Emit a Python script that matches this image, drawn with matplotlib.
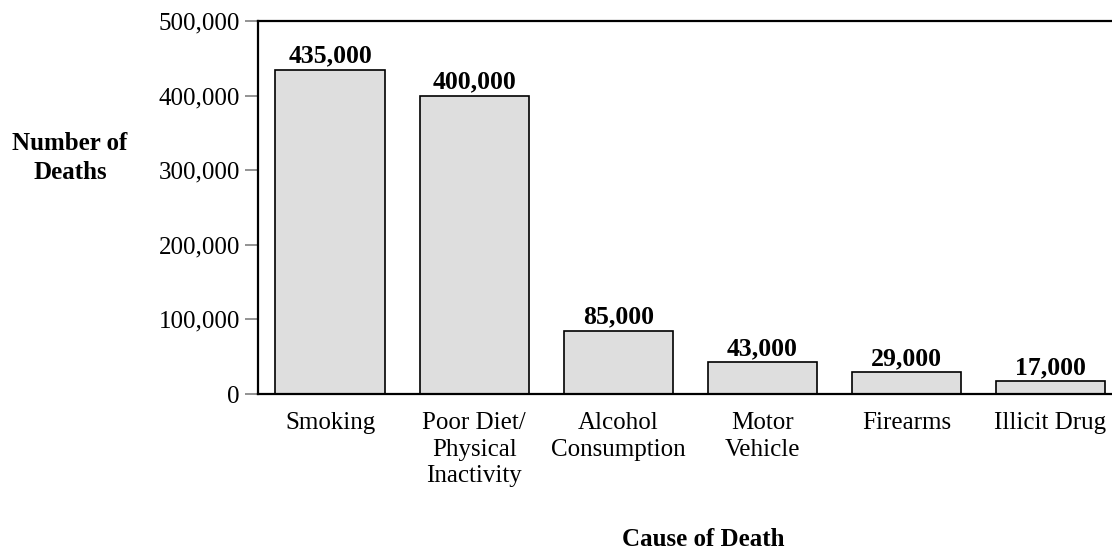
import matplotlib
matplotlib.use("Agg")
import matplotlib.pyplot as plt

causes = ["Smoking", "Poor Diet/\nPhysical\nInactivity", "Alcohol\nConsumption",
          "Motor\nVehicle", "Firearms", "Illicit Drug"]
deaths = [435000, 400000, 85000, 43000, 29000, 17000]
yticks = [0, 100000, 200000, 300000, 400000, 500000]

plt.rcParams["font.family"] = ["Liberation Serif", "DejaVu Serif"]
plt.rcParams["font.size"] = 18

fig = plt.figure(figsize=(11.12, 5.49), dpi=100)
ax = fig.add_axes([0.232, 0.2823, 0.7774, 0.6794])

x = range(len(causes))
bars = ax.bar(x, deaths, width=0.757, color="#dedede", edgecolor="black", linewidth=1.2)

for xi, d in zip(x, deaths):
    ax.annotate(f"{d:,}", (xi, d), xytext=(0, 5), textcoords="offset points",
                ha="center", va="baseline", fontweight="bold", fontsize=18.5)

ax.set_xlim(-0.5, 5.5)
ax.set_ylim(0, 500000)
ax.set_yticks(yticks)
ax.set_yticklabels([f"{t:,}" for t in yticks])
ax.set_xticks(list(x))
ax.set_xticklabels(causes, linespacing=1.27)
ax.tick_params(axis="x", length=0, pad=13)
ax.tick_params(axis="y", length=9.5, width=1.2, color="#808080", pad=3.5)

for side in ["left", "top", "bottom", "right"]:
    ax.spines[side].set_linewidth(1.6)

fig.text(0.063, 0.712, "Number of\nDeaths", ha="center", va="center",
         fontweight="bold", fontsize=18, linespacing=1.32)
fig.text(0.632, 0.006, "Cause of Death", ha="center", va="baseline",
         fontweight="bold", fontsize=18)

fig.savefig("out.png", dpi=100)
